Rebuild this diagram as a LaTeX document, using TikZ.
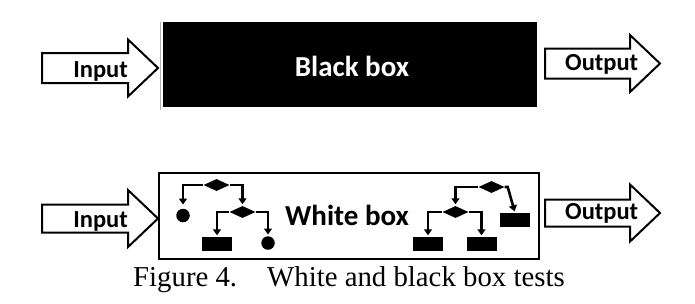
\documentclass[tikz,border=0pt]{standalone}
\usepackage{fontspec}
\setmainfont{Liberation Serif}
\newfontfamily\carl{Carlito}
\usetikzlibrary{shapes.geometric,arrows.meta}
\tikzset{
  fatarrow/.style={draw=black,line width=2pt,fill=white,line join=miter},
  lbl/.style={font=\carl\bfseries\fontsize{24.5}{26}\selectfont,inner sep=0pt},
  boxlbl/.style={font=\carl\bfseries\fontsize{29}{31}\selectfont,inner sep=0pt},
  dia/.style={diamond,fill=black,draw=none,inner sep=0pt,minimum width=26pt,minimum height=12pt},
  dot/.style={circle,fill=black,draw=none,inner sep=0pt,minimum size=13.5pt},
  blk/.style={rectangle,fill=black,draw=none,inner sep=0pt,minimum width=30pt,minimum height=14pt},
  conn/.style={line width=2.6pt,-{Triangle[width=8pt,length=6pt]},shorten >=1.5pt},
}
\newcommand\fatarr[6]{% x0, x1(head start), x2(tip), yc, body half, head half
  \draw[fatarrow] (#1,#4-#5) -- (#2,#4-#5) -- (#2,#4-#6) -- (#3,#4) -- (#2,#4+#6) -- (#2,#4+#5) -- (#1,#4+#5) -- cycle;}
\begin{document}
\begin{tikzpicture}[x=1pt,y=-1pt]
\useasboundingbox (0,0) rectangle (695,303);
% ---------- top row ----------
\fatarr{42}{128}{158}{68}{15}{28.5}
\node[lbl,anchor=base east] (in1) at (128,77) {Input};
\draw[gray!60,line width=0.6pt] (160,22) -- (160,110);
\node[fill=black,draw=none,minimum width=374pt,minimum height=85pt,inner sep=0pt,anchor=north west] (bb) at (163,22) {};
\node[boxlbl,text=white,anchor=base] (bbt) at (352,76) {Black box};
\fatarr{545}{630}{660}{63.5}{15}{28.5}
\node[lbl,anchor=base west] (out1) at (565,70) {Output};
% ---------- bottom row ----------
\fatarr{42}{128}{158}{218.5}{14}{28.5}
\node[lbl,anchor=base east] (in2) at (128,227) {Input};
\node[draw=black,line width=2.4pt,minimum width=380pt,minimum height=86pt,inner sep=0pt,anchor=north west] (wb) at (158,172) {};
\node[boxlbl,anchor=base west] (wbt) at (285,225) {White box};
\fatarr{545}{630}{660}{213}{13.5}{28.5}
\node[lbl,anchor=base west] (out2) at (565,219) {Output};
% left flowchart
\node[dia] (d1) at (216.5,185) {};
\node[dia] (d2) at (242.5,212) {};
\node[dot] (c1) at (183,215.5) {};
\node[blk] (r1) at (217,244) {};
\node[dot] (c2) at (268,243) {};
\draw[conn,shorten >=4pt] (d1.west) -| (c1.north);
\draw[conn] (d1.east) -| (d2.north);
\draw[conn] (d2.west) -| (r1.north);
\draw[conn] (d2.east) -| (c2.north);
% right flowchart
\node[dia] (d3) at (491.5,187) {};
\node[dia] (d4) at (455.5,212) {};
\node[blk] (r4) at (515,220) {};
\node[blk] (r2) at (428,244) {};
\node[blk] (r3) at (481.5,244) {};
\draw[conn] (d3.west) -| (d4.north);
\draw[conn] (d3.east) -- ++(3,0) -- (r4.north);
\draw[conn] (d4.west) -| (r2.north);
\draw[conn] (d4.east) -| (r3.north);
% caption
\node[font=\fontsize{28.8}{30}\selectfont,inner sep=0pt,anchor=base west] (cap) at (133,286) {Figure 4.\hspace{30pt}White and black box tests};
\end{tikzpicture}
\end{document}
